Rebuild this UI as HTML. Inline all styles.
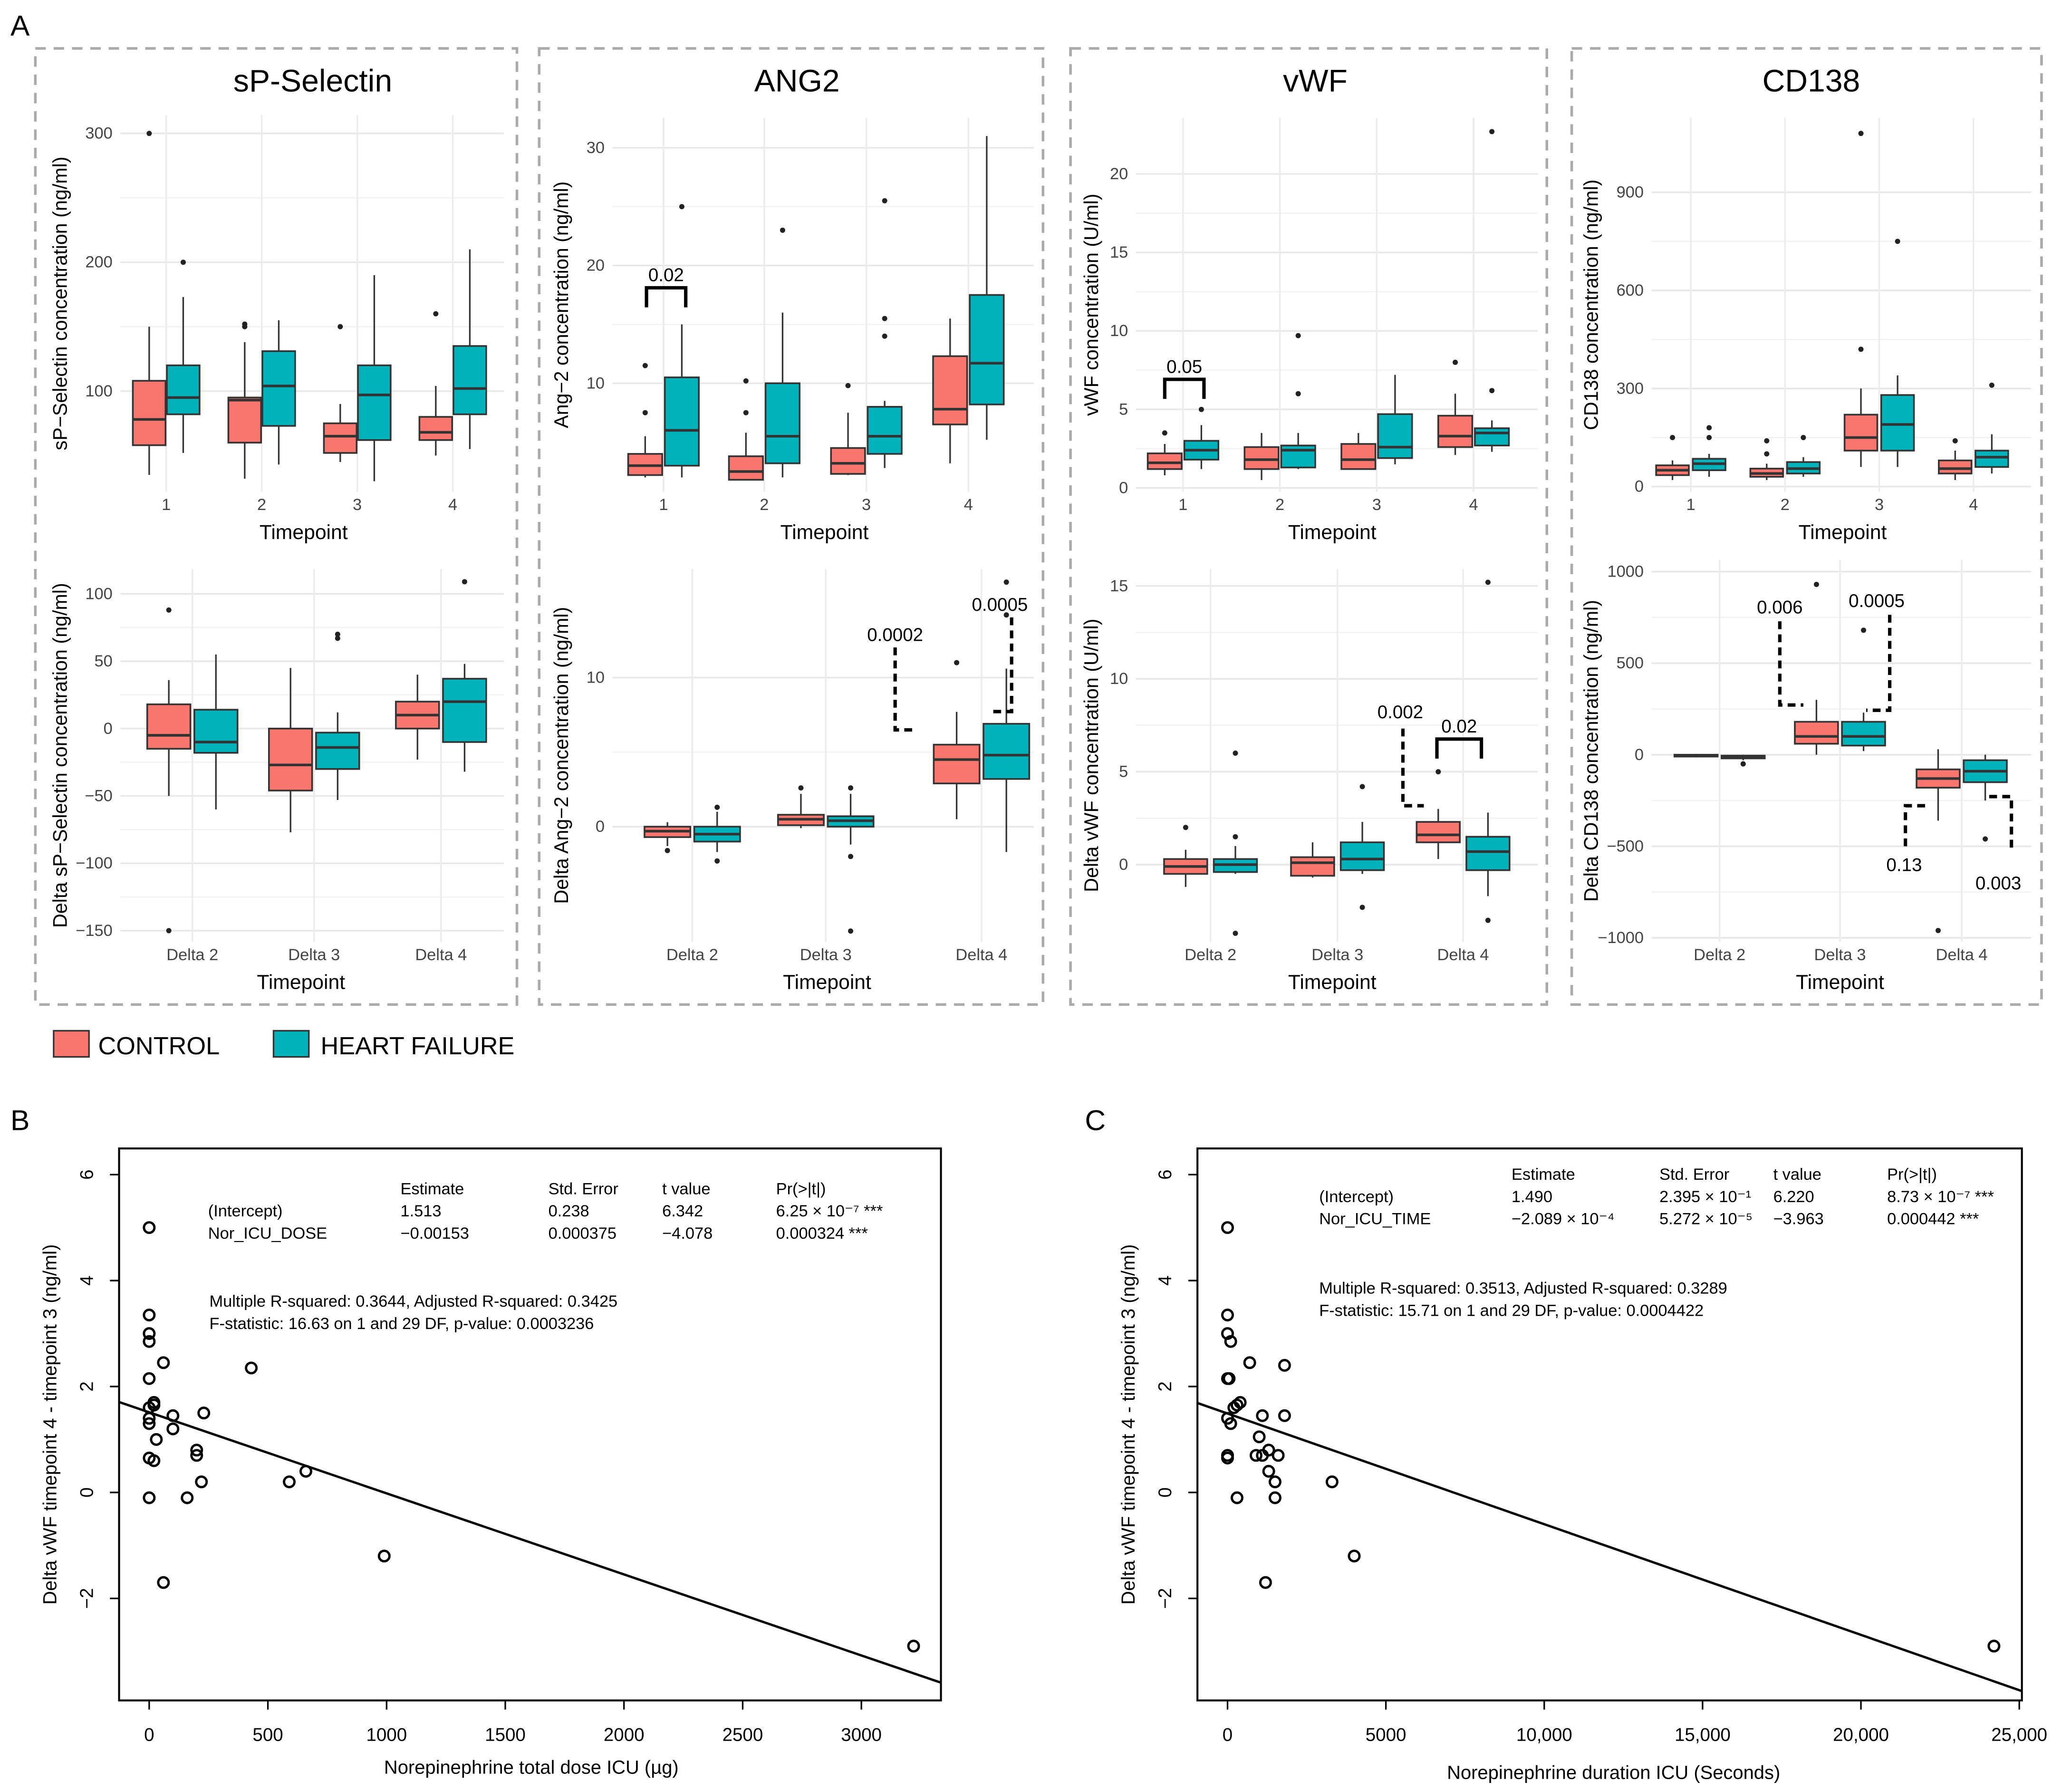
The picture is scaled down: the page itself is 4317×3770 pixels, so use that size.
<!DOCTYPE html>
<html><head><meta charset="utf-8"><style>
html,body{margin:0;padding:0;background:#fff}
svg{display:block}
text{font-family:"Liberation Sans",sans-serif}
</style></head><body>
<svg id="fig" xmlns="http://www.w3.org/2000/svg" width="4317" height="3770" viewBox="0 0 1568 1370" preserveAspectRatio="none">
<rect x="0" y="0" width="1568" height="1370" fill="#fff"/>
<text x="8" y="27" font-size="22">A</text>
<text x="8" y="864" font-size="22">B</text>
<text x="829" y="864" font-size="22">C</text>
<g id="boxes"></g>
<g>
<rect x="41" y="788" width="27" height="20" fill="#F8766D" stroke="#333" stroke-width="1.2"/>
<text x="75" y="806" font-size="19">CONTROL</text>
<rect x="209" y="788" width="27" height="20" fill="#00B2BA" stroke="#333" stroke-width="1.2"/>
<text x="245" y="806" font-size="19">HEART FAILURE</text>
</g>
<g id="scatter"></g>
</svg>
<script>
// ---------- Boxplot data: [min,q1,median,q3,max] per category ----------
const tpTop = ["1","2","3","4"];
const tpDelta = ["Delta 2","Delta 3","Delta 4"];

const spTopC = [[35,58,78,108,150],[32,60,93,95,138],[45,52,65,75,90],[50,62,68,80,104]];
const spTopH = [[52,82,95,120,173],[43,73,104,131,155],[30,62,97,120,190],[55,82,102,135,210]];
const spTopOutC = [[300],[150,152],[150],[160]];
const spTopOutH = [[200],[],[],[]];
const spTopTicks = [100,200,300];

const spDC = [[-50,-15,-5,18,36],[-77,-46,-27,0,45],[-23,0,10,20,40]];
const spDH = [[-60,-18,-10,14,55],[-53,-30,-14,-3,12],[-32,-10,20,37,48]];
const spDOutC = [[88,-150],[],[]];
const spDOutH = [[],[67,70],[109]];
const spDTicks = [-150,-100,-50,0,50,100];

const angTopC = [[2,2.2,3,4,5.5],[1.8,1.8,2.5,3.8,5.8],[2.2,2.3,3.2,4.5,7.5],[3.2,6.5,7.8,12.3,15.5]];
const angTopH = [[2,3,6,10.5,15],[2,3.2,5.5,10,16],[2.8,4,5.5,8,8.5],[5.2,8.2,11.7,17.5,31]];
const angTopOutC = [[7.5,11.5],[7.5,10.2],[9.8],[]];
const angTopOutH = [[25],[23],[14,15.5,25.5],[]];
const angTopTicks = [10,20,30];

const angDC = [[-1.3,-0.7,-0.3,0,0.3],[-0.1,0.1,0.5,0.8,2.2],[0.5,2.9,4.5,5.5,7.7]];
const angDH = [[-1.7,-1,-0.5,0,1],[-1.2,0,0.4,0.7,2.2],[-1.7,3.2,4.8,6.9,10.6]];
const angDOutC = [[-1.6],[2.6],[11]];
const angDOutH = [[1.3,-2.3],[2.6,-2,-7],[14.2,16.4]];
const angDTicks = [0,10];

const vwfTopC = [[0.8,1.2,1.6,2.2,2.8],[0.5,1.2,1.8,2.6,3.5],[1.2,1.2,1.8,2.8,3.5],[2.1,2.6,3.3,4.6,6]];
const vwfTopH = [[1.2,1.8,2.4,3,4],[1.2,1.3,2.4,2.7,3.5],[1.5,1.9,2.6,4.7,7.2],[2.3,2.7,3.5,3.8,4.3]];
const vwfTopOutC = [[3.5],[],[],[8]];
const vwfTopOutH = [[5],[6,9.7],[],[6.2,22.7]];
const vwfTopTicks = [0,5,10,15,20];

const vwfDC = [[-1.2,-0.5,-0.1,0.3,0.8],[-0.7,-0.6,0.1,0.4,1.2],[0.3,1.2,1.6,2.3,3]];
const vwfDH = [[-0.5,-0.4,0,0.3,1],[-0.5,-0.3,0.3,1.2,2.3],[-1.7,-0.3,0.7,1.5,2.8]];
const vwfDOutC = [[2],[],[5]];
const vwfDOutH = [[1.5,6,-3.7],[4.2,-2.3],[-3,15.2]];
const vwfDTicks = [0,5,10,15];

const cdTopC = [[20,35,50,65,80],[20,30,40,55,70],[60,110,150,220,300],[20,40,55,80,110]];
const cdTopH = [[30,50,70,85,100],[30,40,55,75,90],[60,110,190,280,340],[40,60,90,110,160]];
const cdTopOutC = [[150],[100,140],[420,1080],[140]];
const cdTopOutH = [[150,180],[150],[750],[310]];
const cdTopTicks = [0,300,600,900];

const cdDC = [[-15,-10,-5,0,5],[0,60,100,180,300],[-360,-180,-130,-80,30]];
const cdDH = [[-30,-20,-10,-5,0],[20,50,100,180,230],[-250,-150,-90,-30,0]];
const cdDOutC = [[],[930],[-960]];
const cdDOutH = [[-50],[680],[-460]];
const cdDTicks = [-1000,-500,0,500,1000];

// ---------- Scatter data ----------
const bX = [0,0,0,0,0,0,0,0,0,0,20,20,20,30,60,60,100,100,200,200,230,220,160,430,590,660,990,3220];
const bY = [5.0,3.35,3.0,2.85,2.15,1.6,1.4,1.3,0.65,-0.1,1.65,1.7,0.6,1.0,2.45,-1.7,1.45,1.2,0.7,0.8,1.5,0.2,-0.1,2.35,0.2,0.4,-1.2,-2.9];
const bCoef = [1.513,-0.00153];
const bXTicks = [0,500,1000,1500,2000,2500,3000];
const bXLabels = ["0","500","1000","1500","2000","2500","3000"];
const cX = [0,0,0,100,0,50,200,300,400,0,100,0,0,300,700,1800,1800,1100,1000,1100,1300,900,1600,1300,1500,1500,1200,3300,4000,24200];
const cY = [5,3.35,3.0,2.85,2.15,2.15,1.6,1.65,1.7,1.4,1.3,0.65,0.7,-0.1,2.45,2.4,1.45,1.45,1.05,0.7,0.8,0.7,0.7,0.4,0.2,-0.1,-1.7,0.2,-1.2,-2.9];
const cCoef = [1.490,-2.089e-4];
const cXTicks = [0,5000,10000,15000,20000,25000];
const cXLabels = ["0","5000","10,000","15,000","20,000","25,000"];
const yTicksSc = [-2,0,2,4,6];

const NS = "http://www.w3.org/2000/svg";
function mk(parent, tag, attrs, txt){
  const e = document.createElementNS(NS, tag);
  for (const k in attrs) e.setAttribute(k, attrs[k]);
  if (txt !== undefined) e.textContent = txt;
  parent.appendChild(e);
  return e;
}
const CC = "#F8766D", HC = "#00B2BA", ST = "#333";
const root = document.getElementById("boxes");

// dashed panel frames and titles
const frames = [[27,395,"sP-Selectin",239],[412,797,"ANG2",609],[818,1182,"vWF",1005],[1201,1560,"CD138",1384]];
frames.forEach(f => {
  let r = mk(root, "rect", {x:f[0], y:37, width:f[1]-f[0], height:731, fill:"none", stroke:"#aaa", "stroke-width":2, "stroke-dasharray":"8 6"});
  
  
  let t = mk(root, "text", {x:f[3], y:70, "font-size":24, "text-anchor":"middle"}, f[2]);
  
  
});

function boxPanel(cfg){
  const g = mk(root, "g", {});
  
  
  const ys = v => cfg.y0 + (v - cfg.v0) * (cfg.y1 - cfg.y0) / (cfg.v1 - cfg.v0);
  for (let i = 0; i < cfg.ticks.length - 1; i++){
    const m = (cfg.ticks[i] + cfg.ticks[i+1]) / 2;
    let l = mk(g, "line", {x1:cfg.xl, x2:cfg.xr, y1:ys(m), y2:ys(m), stroke:"#f2f2f2", "stroke-width":1});
    
    
  }
  cfg.ticks.forEach(t => {
    let l = mk(g, "line", {x1:cfg.xl, x2:cfg.xr, y1:ys(t), y2:ys(t), stroke:"#e8e8e8", "stroke-width":1.3});
    
    
    let tx = mk(g, "text", {x:cfg.xl - 6, y:ys(t) + 4, "font-size":12.5, fill:"#444", "text-anchor":"end"}, String(t).replace("-", "\u2212"));
    
    
  });
  cfg.cats.forEach((c, i) => {
    let l = mk(g, "line", {x1:cfg.cx[i], x2:cfg.cx[i], y1:cfg.yt, y2:cfg.yb, stroke:"#ececec", "stroke-width":1.3});
    
    
    let tx = mk(g, "text", {x:cfg.cx[i], y:cfg.yb + 14, "font-size":12.5, fill:"#444", "text-anchor":"middle"}, c);
    
    
  });
  let xt = mk(g, "text", {x:cfg.xtx, y:cfg.yb + 36, "font-size":15.5, "text-anchor":"middle"}, "Timepoint");
  
  
  const ym = (cfg.yt + cfg.yb) / 2;
  let yt = mk(g, "text", {x:0, y:0, "font-size":15, "text-anchor":"middle", transform:`translate(${cfg.ytx},${ym}) rotate(-90)`}, cfg.ytitle);
  
  
  [[cfg.c, cfg.oc, -1, CC], [cfg.h, cfg.oh, 1, HC]].forEach(s => {
    s[0].forEach((b, i) => {
      const xc = cfg.cx[i] + s[2] * cfg.off, w = cfg.bw;
      let wl = mk(g, "line", {x1:xc, x2:xc, y1:ys(b[0]), y2:ys(b[4]), stroke:ST, "stroke-width":1.2});
      
      
      let r = mk(g, "rect", {x:xc - w/2, y:ys(b[3]), width:w, height:Math.max(1, ys(b[1]) - ys(b[3])), fill:s[3], stroke:ST, "stroke-width":1.3});
      
      
      let md = mk(g, "line", {x1:xc - w/2, x2:xc + w/2, y1:ys(b[2]), y2:ys(b[2]), stroke:ST, "stroke-width":2});
      
      
      s[1][i].forEach(o => {
        let p = mk(g, "circle", {cx:xc, cy:ys(o), r:2, fill:"#222"});
        
        
      });
    });
  });
  return g;
}

boxPanel({name:"sp-selectin-top", xl:92, xr:385, yt:88, yb:376, v0:100, v1:300, y0:299, y1:102, ticks:spTopTicks, cats:tpTop, cx:[127,200,273,346], off:13, bw:25, c:spTopC, h:spTopH, oc:spTopOutC, oh:spTopOutH, ytitle:"sP\u2212Selectin concentration (ng/ml)", ytx:51, xtx:232});
boxPanel({name:"sp-selectin-delta", xl:92, xr:385, yt:435, yb:720, v0:0, v1:100, y0:557, y1:454, ticks:spDTicks, cats:tpDelta, cx:[147,240,337], off:18, bw:33, c:spDC, h:spDH, oc:spDOutC, oh:spDOutH, ytitle:"Delta sP\u2212Selectin concentration (ng/ml)", ytx:51, xtx:230});
boxPanel({name:"ang2-top", xl:468, xr:790, yt:90, yb:376, v0:0, v1:30, y0:383, y1:113, ticks:angTopTicks, cats:tpTop, cx:[507,584,662,740], off:14, bw:26, c:angTopC, h:angTopH, oc:angTopOutC, oh:angTopOutH, ytitle:"Ang\u22122 concentration (ng/ml)", ytx:434, xtx:630});
boxPanel({name:"ang2-delta", xl:468, xr:790, yt:435, yb:720, v0:0, v1:10, y0:632, y1:518, ticks:angDTicks, cats:tpDelta, cx:[529,631,750], off:19, bw:35, c:angDC, h:angDH, oc:angDOutC, oh:angDOutH, ytitle:"Delta Ang\u22122 concentration (ng/ml)", ytx:434, xtx:632});
boxPanel({name:"vwf-top", xl:868, xr:1175, yt:90, yb:376, v0:0, v1:20, y0:373, y1:133, ticks:vwfTopTicks, cats:tpTop, cx:[904,978,1052,1126], off:14, bw:26, c:vwfTopC, h:vwfTopH, oc:vwfTopOutC, oh:vwfTopOutH, ytitle:"vWF concentration (U/ml)", ytx:839, xtx:1018});
boxPanel({name:"vwf-delta", xl:868, xr:1175, yt:435, yb:720, v0:0, v1:15, y0:661, y1:448, ticks:vwfDTicks, cats:tpDelta, cx:[925,1022,1118], off:19, bw:33, c:vwfDC, h:vwfDH, oc:vwfDOutC, oh:vwfDOutH, ytitle:"Delta vWF concentration (U/ml)", ytx:839, xtx:1018});
boxPanel({name:"cd138-top", xl:1262, xr:1552, yt:90, yb:376, v0:0, v1:900, y0:372, y1:147, ticks:cdTopTicks, cats:tpTop, cx:[1292,1364,1436,1508], off:14, bw:25, c:cdTopC, h:cdTopH, oc:cdTopOutC, oh:cdTopOutH, ytitle:"CD138 concentration (ng/ml)", ytx:1221, xtx:1408});
boxPanel({name:"cd138-delta", xl:1262, xr:1552, yt:428, yb:720, v0:0, v1:1000, y0:577, y1:437, ticks:cdDTicks, cats:tpDelta, cx:[1314,1406,1499], off:18, bw:33, c:cdDC, h:cdDH, oc:cdDOutC, oh:cdDOutH, ytitle:"Delta CD138 concentration (ng/ml)", ytx:1221, xtx:1406});

function ann(txt, x, y){
  let t = mk(root, "text", {x:x, y:y, "font-size":14, "text-anchor":"middle"}, txt);
  
  
}
function bracket(pts, dashed){
  let p = mk(root, "polyline", {points:pts, fill:"none", stroke:"#000", "stroke-width":2.6, "stroke-dasharray":dashed ? "6 4" : "none"});
  
  
}
bracket("494,235 494,220 524,220 524,235", false); ann("0.02", 509, 215);
bracket("890,305 890,290 920,290 920,305", false); ann("0.05", 905, 285);
bracket("684,495 684,558 700,558", true); ann("0.0002", 684, 490);
bracket("773,472 773,544 757,544", true); ann("0.0005", 764, 467);
bracket("1072,557 1072,616 1088,616", true); ann("0.002", 1070, 549);
bracket("1098,580 1098,565 1132,565 1132,580", false); ann("0.02", 1115, 560);
bracket("1360,475 1360,539 1378,539", true); ann("0.006", 1360, 469);
bracket("1444,470 1444,543 1426,543", true); ann("0.0005", 1434, 464);
bracket("1456,647 1456,616 1472,616", true); ann("0.13", 1455, 666);
bracket("1537,648 1537,609 1520,609", true); ann("0.003", 1527, 680);

const sroot = document.getElementById("scatter");
function scatter(cfg){
  const g = mk(sroot, "g", {});
  
  
  const xs = v => cfg.x0 + v * cfg.kx;
  const ys = v => 1141 - v * 40.5;
  let fr = mk(g, "rect", {x:cfg.l, y:878, width:cfg.r - cfg.l, height:422, fill:"none", stroke:"#000", "stroke-width":1.5});
  
  
  cfg.xt.forEach((t, i) => {
    let l = mk(g, "line", {x1:xs(t), x2:xs(t), y1:1300, y2:1307, stroke:"#000", "stroke-width":1.2});
    
    
    let tx = mk(g, "text", {x:xs(t), y:1331, "font-size":14, "text-anchor":"middle"}, cfg.xl[i]);
    
    
  });
  yTicksSc.forEach(t => {
    let l = mk(g, "line", {x1:cfg.l - 7, x2:cfg.l, y1:ys(t), y2:ys(t), stroke:"#000", "stroke-width":1.2});
    
    
    let tx = mk(g, "text", {x:0, y:0, "font-size":14, "text-anchor":"middle", transform:`translate(${cfg.l - 20},${ys(t)}) rotate(-90)`}, String(t).replace("-", "\u2212"));
    
    
  });
  let xa = mk(g, "text", {x:cfg.xtx, y:cfg.xty, "font-size":14.5, "text-anchor":"middle"}, cfg.xtitle);
  
  
  let ya = mk(g, "text", {x:0, y:0, "font-size":14.5, "text-anchor":"middle", transform:`translate(${cfg.l - 48},1089) rotate(-90)`}, "Delta vWF timepoint 4 - timepoint 3 (ng/ml)");
  
  
  const vl = (cfg.l - cfg.x0) / cfg.kx, vr = (cfg.r - cfg.x0) / cfg.kx;
  let rl = mk(g, "line", {x1:cfg.l, y1:ys(cfg.coef[0] + cfg.coef[1] * vl), x2:cfg.r, y2:ys(cfg.coef[0] + cfg.coef[1] * vr), stroke:"#000", "stroke-width":1.8});
  
  
  cfg.px.forEach((x, i) => {
    let c = mk(g, "circle", {cx:xs(x), cy:ys(cfg.py[i]), r:4, fill:"none", stroke:"#000", "stroke-width":1.8});
    
    
  });
  cfg.txt.forEach(t => {
    let tx = mk(g, "text", {x:t[0], y:t[1], "font-size":12.5}, t[2]);
    
    
  });
}
scatter({name:"scatter-norepinephrine-dose", l:91, r:719, x0:114, kx:90.7/500, xt:bXTicks, xl:bXLabels, px:bX, py:bY, coef:bCoef,
  xtitle:"Norepinephrine total dose ICU (\u00b5g)", xtx:406, xty:1356,
  txt:[[306,913,"Estimate"],[419,913,"Std. Error"],[506,913,"t value"],[593,913,"Pr(>|t|)"],
       [159,930,"(Intercept)"],[306,930,"1.513"],[419,930,"0.238"],[506,930,"6.342"],[593,930,"6.25 \u00d7 10\u207b\u2077 ***"],
       [159,947,"Nor_ICU_DOSE"],[306,947,"\u22120.00153"],[419,947,"0.000375"],[506,947,"\u22124.078"],[593,947,"0.000324 ***"],
       [160,999,"Multiple R-squared:  0.3644,  Adjusted R-squared:  0.3425"],[160,1016,"F-statistic: 16.63 on 1 and 29 DF,  p-value: 0.0003236"]]});
scatter({name:"scatter-norepinephrine-duration", l:915, r:1545, x0:938, kx:121/5000, xt:cXTicks, xl:cXLabels, px:cX, py:cY, coef:cCoef,
  xtitle:"Norepinephrine duration ICU (Seconds)", xtx:1233, xty:1360,
  txt:[[1155,902,"Estimate"],[1268,902,"Std. Error"],[1355,902,"t value"],[1442,902,"Pr(>|t|)"],
       [1008,919,"(Intercept)"],[1155,919,"1.490"],[1268,919,"2.395 \u00d7 10\u207b\u00b9"],[1355,919,"6.220"],[1442,919,"8.73 \u00d7 10\u207b\u2077 ***"],
       [1008,936,"Nor_ICU_TIME"],[1155,936,"\u22122.089 \u00d7 10\u207b\u2074"],[1268,936,"5.272 \u00d7 10\u207b\u2075"],[1355,936,"\u22123.963"],[1442,936,"0.000442 ***"],
       [1008,989,"Multiple R-squared:  0.3513,  Adjusted R-squared:  0.3289"],[1008,1006,"F-statistic: 15.71 on 1 and 29 DF,  p-value: 0.0004422"]]});
</script>
</body></html>
